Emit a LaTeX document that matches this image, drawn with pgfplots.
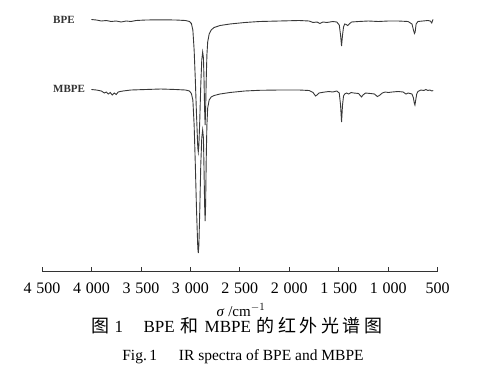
\documentclass[border=0pt]{standalone}
\usepackage{pgfplots}
\pgfplotsset{compat=1.18}
\usepackage{fontspec}
\setmainfont{Liberation Serif}
\newfontfamily\cjk{Noto Sans CJK SC}
\definecolor{spec}{gray}{0.22}
\newcommand{\cs}{\hspace{3.5pt}}
\begin{document}
\begin{tikzpicture}[x=1pt,y=1pt]
\useasboundingbox (0,0) rectangle (482,376);
\begin{axis}[
  at={(42pt,105pt)}, anchor=south west,
  scale only axis, width=395.7pt, height=271pt,
  xmin=500, xmax=4500, x dir=reverse,
  ymin=0, ymax=271,
  clip=false,
  axis x line*=bottom, axis y line=none,
  axis line style={-, color=black!80, line width=0.9pt},
  xtick={4500,4000,3500,3000,2500,2000,1500,1000,500},
  xticklabels={4\hspace{0.3em}500,4\hspace{0.3em}000,3\hspace{0.3em}500,3\hspace{0.3em}000,2\hspace{0.3em}500,2\hspace{0.3em}000,1\hspace{0.3em}500,1\hspace{0.3em}000,500},
  xtick align=inside, major tick length=4pt,
  tick style={color=black!80, line width=0.8pt},
  xticklabel style={font=\fontsize{16}{16}\selectfont, yshift=-8pt},
  ytick=\empty,
]
% BPE  (sigma, 271 - pixel y)
\addplot[spec, line width=0.9pt] coordinates {
(4000,251.5)(3950,251)(3900,250)(3850,250.5)(3800,249.5)(3750,250)(3700,249)(3650,250)(3600,249.5)(3550,250.5)
(3450,251)(3300,251.2)(3150,251)(3050,250.5)(3010,249.5)(2990,247.5)(2975,241)(2962,221)(2950,191)(2938,156)
(2925,123)(2920,119)(2914,126)(2905,151)(2895,186)(2885,211)(2876,219)(2868,213)(2862,191)(2856,161)
(2851,146)(2846,161)(2840,191)(2833,216)(2825,229)(2810,237)(2790,241)(2760,243.5)(2700,245.5)(2600,247)
(2450,248.5)(2300,249.5)(2100,250)(1900,250.5)(1800,250)(1760,248.5)(1720,249)(1690,247.5)(1660,249)(1620,248.5)
(1560,249.5)(1520,249)(1495,246)(1482,236)(1472,225)(1462,236)(1452,244)(1440,247)(1425,246.5)(1410,245.5)
(1395,247)(1370,249)(1300,249.5)(1200,250)(1100,249.5)(1000,250)(900,250)(800,249.5)(760,247)(745,241)
(735,237.5)(728,239)(718,247)(700,249.5)(650,250)(600,250.5)(575,250)(560,248)(550,251)(545,251.5)
};
% MBPE
\addplot[spec, line width=0.9pt] coordinates {
(4000,181.5)(3950,181)(3900,180)(3870,178)(3850,179)(3830,177)(3810,178.5)(3790,176)(3770,178)(3750,176.5)
(3730,179)(3710,179.5)(3680,180)(3600,181)(3450,181.5)(3300,182)(3150,181.5)(3050,181)(3010,180)(2990,177.5)
(2975,171)(2962,146)(2950,106)(2938,61)(2925,23)(2920,18)(2914,26)(2905,61)(2895,106)(2885,133)
(2876,141)(2868,133)(2862,101)(2856,66)(2851,50)(2846,66)(2840,111)(2833,146)(2825,163)(2810,171)
(2790,174)(2760,175.5)(2700,177)(2600,178.5)(2450,180)(2300,180.7)(2100,181)(1900,181)(1800,180.5)(1760,178.5)
(1735,175)(1720,176)(1700,178)(1670,178.5)(1640,179)(1600,179.5)(1560,179)(1520,180)(1495,178)(1482,166)
(1472,149)(1462,166)(1452,175)(1440,177)(1420,178)(1400,177)(1375,178.5)(1350,178)(1300,177.5)(1270,174)
(1255,176)(1230,178)(1180,177.5)(1140,177)(1110,174.5)(1090,175.5)(1060,178)(1030,179)(1000,178.5)(960,179)
(900,179.5)(850,179)(820,177)(800,178)(760,177)(745,173)(737,168)(730,166)(722,171)(712,177)
(700,179.5)(670,181)(640,180.5)(620,181.5)(600,180.5)(580,181)(560,180)(545,180.5)
};
\end{axis}
\node[anchor=west, inner sep=0, text=black!80, font=\fontsize{11}{11}\selectfont\bfseries] at (53,356) {BPE};
\node[anchor=west, inner sep=0, text=black!80, font=\fontsize{11}{11}\selectfont\bfseries] at (53,287) {MBPE};
\node[inner sep=0, font=\fontsize{15}{15}\selectfont] at (241,66) {\textit{σ} /cm$^{-1}$};
\node[inner sep=0, font=\fontsize{17}{17}\selectfont] at (237,50) {{\cjk\fontsize{18}{18}\selectfont 图}\hspace{0.3em}1\hspace{1.2em}BPE\hspace{0.35em}{\cjk\fontsize{18}{18}\selectfont 和}\hspace{0.35em}MBPE\hspace{0.35em}{\cjk\fontsize{18}{18}\selectfont 的\cs 红\cs 外\cs 光\cs 谱\cs 图}};
\node[inner sep=0, font=\fontsize{15.5}{15.5}\selectfont] at (243,19) {Fig.\,1\hspace{1.4em}IR spectra of BPE and MBPE};
\end{tikzpicture}
\end{document}
